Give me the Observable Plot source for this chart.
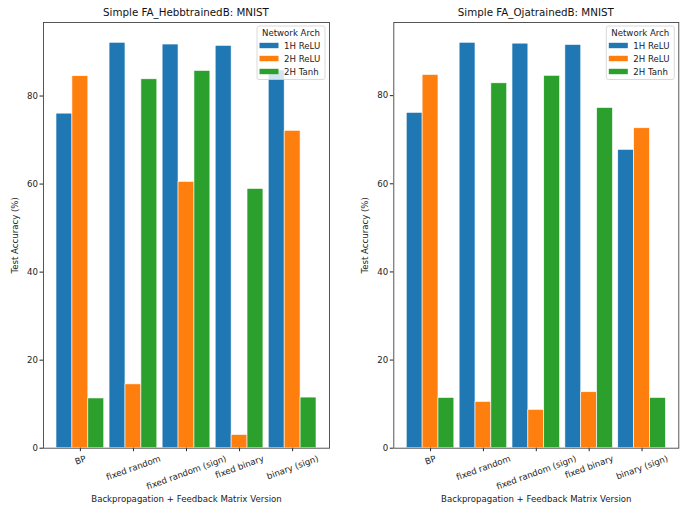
<!DOCTYPE html>
<html>
<head>
<meta charset="utf-8">
<script src="https://cdn.jsdelivr.net/npm/d3@7"></script>
<script src="https://cdn.jsdelivr.net/npm/@observablehq/plot@0.6"></script>
<style>
  html, body { margin: 0; padding: 0; background: #fff; }
  #root { position: relative; width: 689px; height: 513px; font-family: "DejaVu Sans", sans-serif; }
  .panel { position: absolute; top: 0; }
  .title { height: 20px; font-size: 10.3px; color: #111; text-align: center; line-height: 24px; box-sizing: border-box; white-space: nowrap; }
  svg { display: block; }
</style>
</head>
<body>
<div id="root"></div>
<script>
const categories = ["BP", "fixed random", "fixed random (sign)", "fixed binary", "binary (sign)"];
const archs = ["1H ReLU", "2H ReLU", "2H Tanh"];
const colors = ["#1f77b4", "#ff7f0e", "#2ca02c"];

// Left panel: FA_HebbtrainedB
const hebb_1H_ReLU = [76.0, 92.1, 91.7, 91.4, 85.8];
const hebb_2H_ReLU = [84.5, 14.5, 60.5, 3.0, 72.1];
const hebb_2H_Tanh = [11.3, 83.8, 85.7, 58.9, 11.5];

// Right panel: FA_OjatrainedB
const oja_1H_ReLU = [76.1, 92.0, 91.8, 91.5, 67.7];
const oja_2H_ReLU = [84.7, 10.5, 8.7, 12.7, 72.6];
const oja_2H_Tanh = [11.4, 82.8, 84.5, 77.2, 11.4];

const yTicks = [0, 20, 40, 60, 80];
const titles = ["Simple FA_HebbtrainedB: MNIST", "Simple FA_OjatrainedB: MNIST"];
const xLabel = "Backpropagation + Feedback Matrix Version";
const yLabel = "Test Accuracy (%)";
const legendTitle = "Network Arch";

const FONT_PX = 8.6;
const ROT = 20;

function toRows(series) {
  const rows = [];
  series.forEach((vals, ai) => vals.forEach((v, ci) => rows.push({cat: ci, arch: archs[ai], ai, value: v})));
  return rows;
}

// measure label widths to emulate matplotlib's rotated-bbox alignment (ha=center, va=top)
const ctx = document.createElement("canvas").getContext("2d");
ctx.font = FONT_PX + "px 'DejaVu Sans'";
const sinR = Math.sin(ROT * Math.PI / 180), cosR = Math.cos(ROT * Math.PI / 180);
function labelDy(label) {
  const w = ctx.measureText(label).width;
  return 6.3 + (w * sinR + 8 * cosR) / 2;
}

const barW = 0.3;
const panels = [
  {left: 0, width: 345, ml: 43, mr: 16, title: titles[0], rows: toRows([hebb_1H_ReLU, hebb_2H_ReLU, hebb_2H_Tanh])},
  {left: 345, width: 344, ml: 48.3, mr: 10.7, title: titles[1], rows: toRows([oja_1H_ReLU, oja_2H_ReLU, oja_2H_Tanh])}
];

function legendMark(index, scales, values, dim) {
  const g = d3.create("svg:g").attr("font-size", FONT_PX + "px").attr("fill", "#222").attr("text-anchor", "start");
  const w = 68, h = 53.5;
  const x0 = dim.width - dim.marginRight - 4 - w;
  const y0 = dim.marginTop + 4;
  g.append("rect").attr("x", x0).attr("y", y0).attr("width", w).attr("height", h)
    .attr("rx", 2).attr("fill", "white").attr("fill-opacity", 0.8).attr("stroke", "#d0d0d0").attr("stroke-width", 0.8);
  g.append("text").attr("x", x0 + w / 2).attr("y", y0 + 7).attr("dy", "0.35em").attr("text-anchor", "middle").text(legendTitle);
  archs.forEach((a, i) => {
    const cy = y0 + 19.5 + i * 13;
    g.append("rect").attr("x", x0 + 2.5).attr("y", cy - 2.7).attr("width", 19).attr("height", 5.4).attr("fill", scales.color(a));
    g.append("text").attr("x", x0 + 27).attr("y", cy).attr("dy", "0.35em").attr("text-anchor", "start").text(a);
  });
  return g.node();
}

const root = document.getElementById("root");
panels.forEach(p => {
  const div = document.createElement("div");
  div.className = "panel";
  div.style.left = p.left + "px";
  div.style.width = p.width + "px";
  const t = document.createElement("div");
  t.className = "title";
  t.style.paddingLeft = p.ml + "px";
  t.style.paddingRight = p.mr + "px";
  t.textContent = p.title;
  div.appendChild(t);

  const yMax = d3.max(p.rows, d => d.value) * 1.05;
  const tickLabelMarks = categories.map((c, i) =>
    Plot.text([i], {
      x: d => d,
      text: d => categories[d],
      frameAnchor: "bottom",
      dy: labelDy(c),
      rotate: -ROT,
      textAnchor: "middle",
      lineAnchor: "middle",
      fill: "#222"
    })
  );
  const chart = Plot.plot({
    width: p.width,
    height: 493,
    marginTop: 2,
    marginBottom: 65.3,
    marginLeft: p.ml,
    marginRight: p.mr,
    style: {fontFamily: "DejaVu Sans, sans-serif", fontSize: FONT_PX + "px", color: "#222", background: "white"},
    x: {
      domain: [-0.45 - 0.245, categories.length - 1 + 0.45 + 0.245]
    },
    y: {
      domain: [0, yMax]
    },
    color: {domain: archs, range: colors},
    marks: [
      Plot.rectY(p.rows, {
        x1: d => d.cat + (d.ai - 1) * barW - barW / 2,
        x2: d => d.cat + (d.ai - 1) * barW + barW / 2,
        y: "value",
        fill: "arch",
        stroke: "white",
        strokeWidth: 0.6
      }),
      Plot.axisX({
        ticks: d3.range(categories.length),
        tickFormat: () => "",
        tickSize: 3.5,
        label: xLabel,
        labelAnchor: "center",
        labelOffset: 54,
        labelArrow: "none"
      }),
      ...tickLabelMarks,
      Plot.axisY({
        ticks: yTicks,
        tickSize: 3.5,
        tickPadding: 2,
        label: yLabel,
        labelAnchor: "center",
        labelOffset: 32,
        labelArrow: "none"
      }),
      Plot.frame({stroke: "#444", strokeWidth: 0.9}),
      legendMark
    ]
  });
  div.appendChild(chart);
  root.appendChild(div);
});
</script>
</body>
</html>
